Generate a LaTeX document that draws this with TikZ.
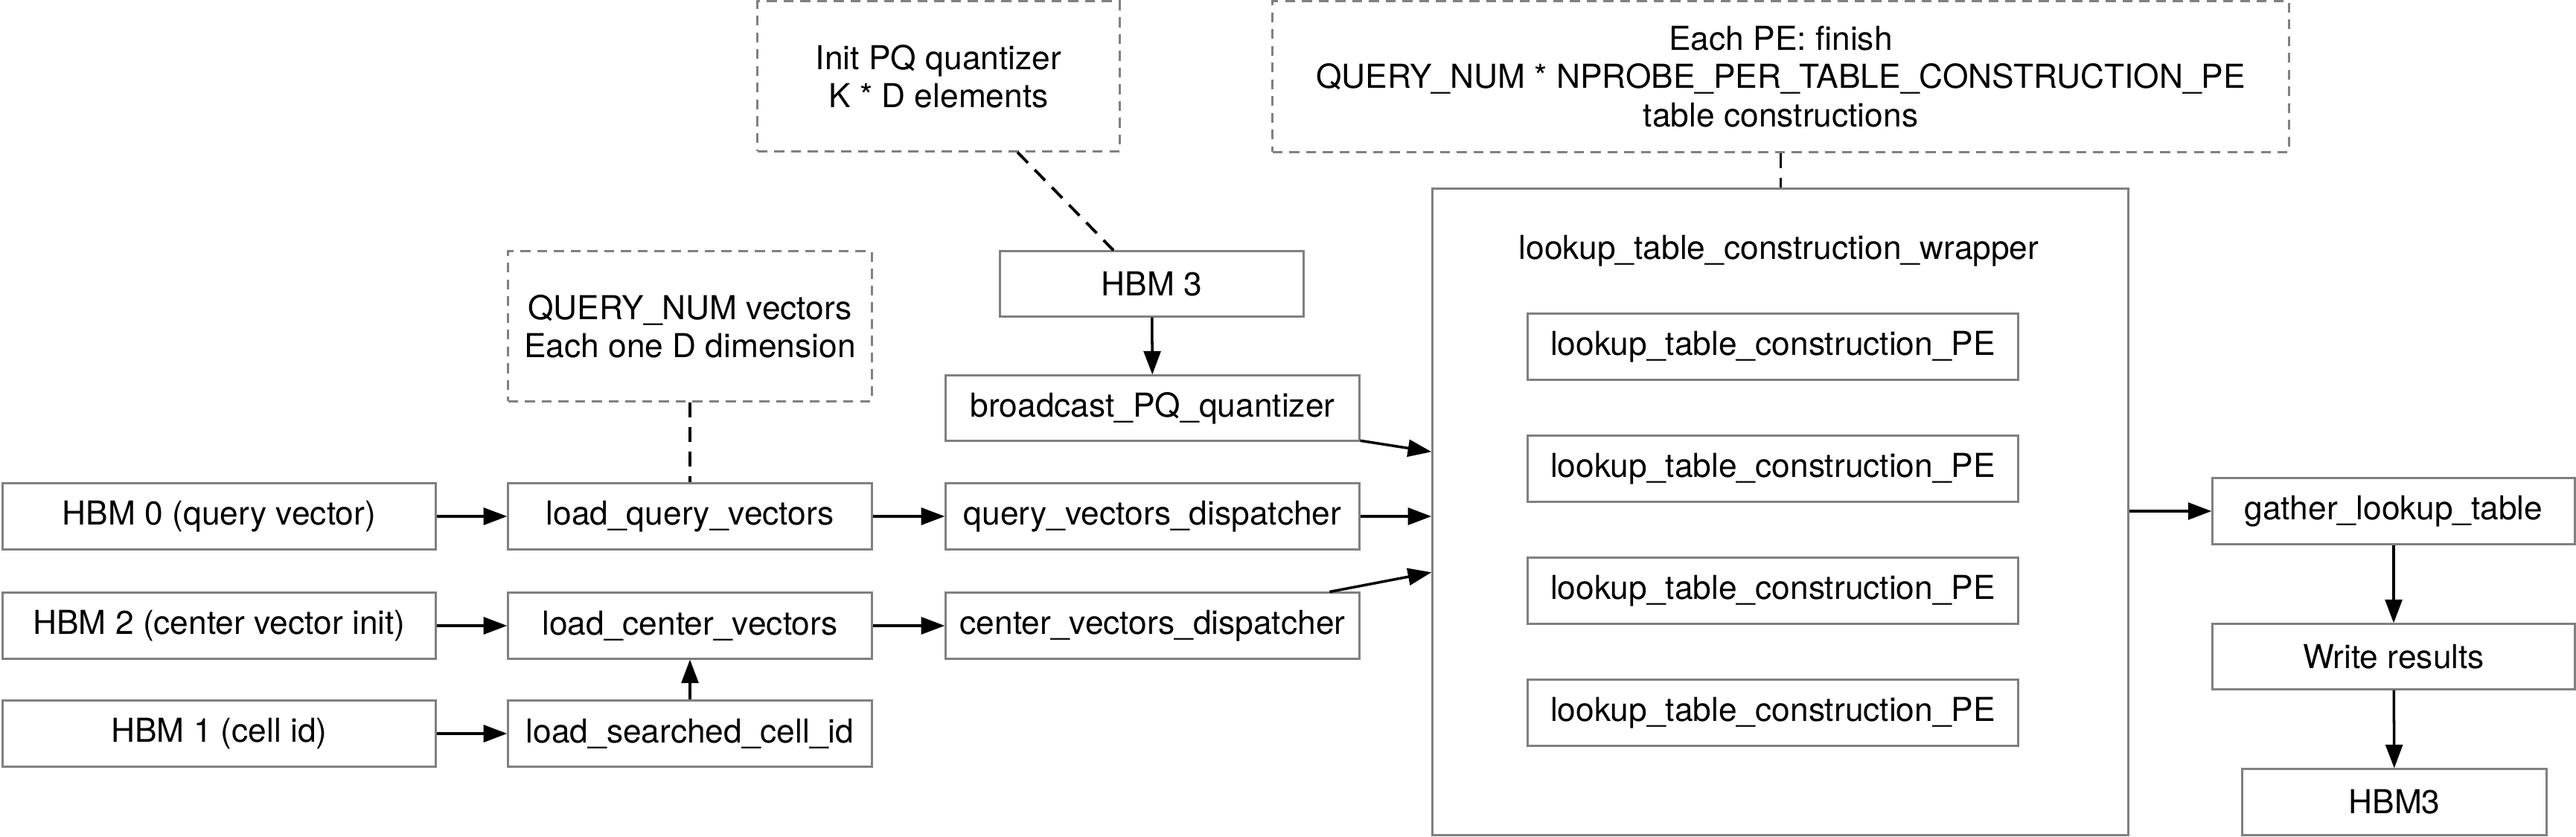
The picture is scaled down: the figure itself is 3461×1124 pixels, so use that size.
\documentclass[tikz,border=0pt]{standalone}
\usepackage{fontspec}
\setmainfont{TeX Gyre Heros}
\usetikzlibrary{arrows.meta,calc}
\definecolor{boxgray}{RGB}{128,128,128}
\tikzset{
  box/.style={draw=boxgray, line width=0.85pt, fill=white, inner sep=0pt, anchor=center,
    font=\fontsize{12.6}{14.6}\selectfont, align=center},
  note/.style={box, dash pattern=on 3.8pt off 2.6pt},
  arr/.style={line width=1pt, -{Triangle[length=9pt,width=6.5pt]}},
  dline/.style={line width=1.1pt, dash pattern=on 5.7pt off 3.7pt},
  lbl/.style={inner sep=0pt, font=\fontsize{12.6}{14.6}\selectfont}
}
\begin{document}
\begin{tikzpicture}[x=0.01cm, y=-0.01cm]
\useasboundingbox (0,0) rectangle (3461,1124);
% left column
\node[box, minimum width=5.81cm, minimum height=0.88cm] (h0) at (294.5,694) {HBM 0 (query vector)};
\node[box, minimum width=5.81cm, minimum height=0.88cm] (h2) at (294.5,841) {HBM 2 (center vector init)};
\node[box, minimum width=5.81cm, minimum height=0.88cm] (h1) at (294.5,986) {HBM 1 (cell id)};
% second column
\node[note, minimum width=4.88cm, minimum height=2.01cm] (qnote) at (927,438.5) {QUERY\_NUM vectors\\Each one D dimension};
\node[box, minimum width=4.88cm, minimum height=0.88cm] (lq) at (927,694) {load\_query\_vectors};
\node[box, minimum width=4.88cm, minimum height=0.88cm] (lc) at (927,841) {load\_center\_vectors};
\node[box, minimum width=4.88cm, minimum height=0.88cm] (ls) at (927,986) {load\_searched\_cell\_id};
% third column
\node[note, minimum width=4.86cm, minimum height=2.01cm] (init) at (1261,102.5) {Init PQ quantizer\\K * D elements};
\node[box, minimum width=4.07cm, minimum height=0.87cm] (hbm3) at (1547.5,381.5) {HBM 3};
\node[box, minimum width=5.55cm, minimum height=0.87cm] (bpq) at (1548.5,548.5) {broadcast\_PQ\_quantizer};
\node[box, minimum width=5.55cm, minimum height=0.88cm] (qd) at (1548.5,694) {query\_vectors\_dispatcher};
\node[box, minimum width=5.55cm, minimum height=0.88cm] (cd) at (1548.5,841) {center\_vectors\_dispatcher};
% wrapper
\node[note, minimum width=13.65cm, minimum height=2.02cm] (penote) at (2392.5,103) {Each PE: finish\\QUERY\_NUM * NPROBE\_PER\_TABLE\_CONSTRUCTION\_PE\\table constructions};
\node[box, minimum width=9.34cm, minimum height=8.68cm] (wrap) at (2392,688) {};
\node[lbl] (wlabel) at (2390,337) {lookup\_table\_construction\_wrapper};
\node[box, minimum width=6.58cm, minimum height=0.88cm] (pe1) at (2382,466) {lookup\_table\_construction\_PE};
\node[box, minimum width=6.58cm, minimum height=0.88cm] (pe2) at (2382,630) {lookup\_table\_construction\_PE};
\node[box, minimum width=6.58cm, minimum height=0.88cm] (pe3) at (2382,794) {lookup\_table\_construction\_PE};
\node[box, minimum width=6.58cm, minimum height=0.88cm] (pe4) at (2382,958) {lookup\_table\_construction\_PE};
% right column
\node[box, minimum width=4.86cm, minimum height=0.88cm] (gather) at (3216,687) {gather\_lookup\_table};
\node[box, minimum width=4.86cm, minimum height=0.87cm] (write) at (3216,882.5) {Write results};
\node[box, minimum width=4.08cm, minimum height=0.88cm] (hbmout) at (3217,1078) {HBM3};
% coordinates on wrapper
\coordinate (w1) at ($(wrap.north west)+(0,355)$);
\coordinate (w3) at ($(wrap.north west)+(0,517)$);
% connectors
\draw[arr] (h0) -- (lq);
\draw[arr] (h2) -- (lc);
\draw[arr] (h1) -- (ls);
\draw[arr] (ls) -- (lc);
\draw[arr] (lq) -- (qd);
\draw[arr] (lc) -- (cd);
\draw[arr] (hbm3) -- (bpq);
\draw[arr] (bpq) -- (w1);
\draw[arr] (qd.east) -- (qd.east -| wrap.west);
\draw[arr] (cd) -- (w3);
\draw[arr] (gather.west -| wrap.east) -- (gather.west);
\draw[arr] (gather) -- (write);
\draw[arr] (write) -- (hbmout);
\draw[dline] (qnote.south) -- (lq.north);
\draw[dline] ($(init.south)+(106,0)$) -- ($(hbm3.north)+(-51.5,0)$);
\draw[dline] (penote.south) -- (penote.south |- wrap.north);
\end{tikzpicture}
\end{document}
